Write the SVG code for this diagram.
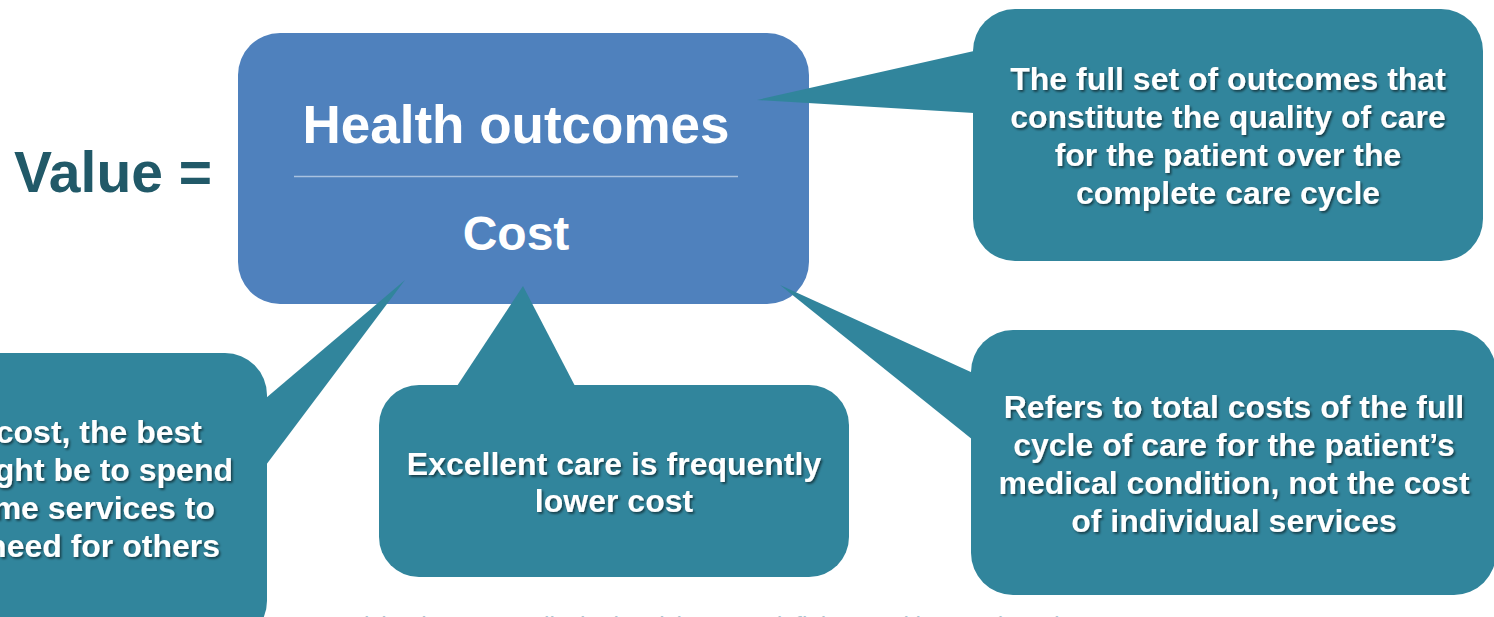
<svg xmlns="http://www.w3.org/2000/svg" width="1494" height="617" viewBox="0 0 1494 617">
  <defs>
    <filter id="sh" x="-5%" y="-20%" width="110%" height="140%">
      <feDropShadow dx="1.6" dy="1.8" stdDeviation="0.9" flood-color="#000" flood-opacity="0.55"/>
    </filter>
  </defs>
  <style>
    .callout { fill: #31859C; }
    .main { fill: #4F81BD; }
    .ctext { font-family: "Liberation Sans", Arial, sans-serif; font-weight: bold; font-size: 32px; fill: #FFFFFF; text-anchor: middle; filter: url(#sh); }
    .mtext { font-family: "Liberation Sans", Arial, sans-serif; font-weight: bold; fill: #FFFFFF; text-anchor: middle; }
  </style>
  <rect width="1494" height="617" fill="#FFFFFF"/>

  <g id="value-label">
    <text x="14" y="192" font-family="Liberation Sans, Arial, sans-serif" font-weight="bold" font-size="57" fill="#215968">Value =</text>
  </g>

  <g id="ratio">
    <rect class="main" x="238" y="33" width="571" height="271" rx="42" ry="42"/>
    <line x1="294" y1="176.5" x2="738" y2="176.5" stroke="#A9C2E0" stroke-width="1.6"/>
    <text class="mtext" x="516" y="143" font-size="53">Health outcomes</text>
    <text class="mtext" x="516" y="250" font-size="48">Cost</text>
  </g>

  <g id="connectors">
    <polygon class="callout" points="757,100 974,51 974,113"/>
    <polygon class="callout" points="780,285 973,373 973,440"/>
    <polygon class="callout" points="523,286 457,386 575,386"/>
    <polygon class="callout" points="405,280 266,398 266,465"/>
  </g>

  <g id="outcomes-note">
    <rect class="callout" x="973" y="9" width="510" height="252" rx="42" ry="42"/>
    <text class="ctext" x="1228" y="90">The full set of outcomes that</text>
    <text class="ctext" x="1228" y="128">constitute the quality of care</text>
    <text class="ctext" x="1228" y="166">for the patient over the</text>
    <text class="ctext" x="1228" y="204">complete care cycle</text>
  </g>

  <g id="cost-note">
    <rect class="callout" x="971" y="330" width="525" height="265" rx="42" ry="42"/>
    <text class="ctext" x="1234" y="418">Refers to total costs of the full</text>
    <text class="ctext" x="1234" y="456">cycle of care for the patient’s</text>
    <text class="ctext" x="1234" y="494">medical condition, not the cost</text>
    <text class="ctext" x="1234" y="532">of individual services</text>
  </g>

  <g id="excellent-note">
    <rect class="callout" x="379" y="385" width="470" height="192" rx="40" ry="40"/>
    <text class="ctext" x="614" y="475">Excellent care is frequently</text>
    <text class="ctext" x="614" y="512">lower cost</text>
  </g>

  <g id="spend-note">
    <rect class="callout" x="-260" y="353" width="527" height="290" rx="42" ry="42"/>
    <text class="ctext" x="202" y="443" style="text-anchor:end">cost, the best</text>
    <text class="ctext" x="233" y="481" style="text-anchor:end">ght be to spend</text>
    <text class="ctext" x="215" y="519" style="text-anchor:end">me services to</text>
    <text class="ctext" x="220" y="557" style="text-anchor:end">need for others</text>
  </g>

  <g id="source">
    <text x="342" y="634" font-family="Liberation Sans, Arial, sans-serif" font-style="italic" font-size="24" fill="#A9C6D0">Michael Porter &amp; Elizabeth Teisberg, Redefining Health Care (2006)</text>
  </g>
</svg>
